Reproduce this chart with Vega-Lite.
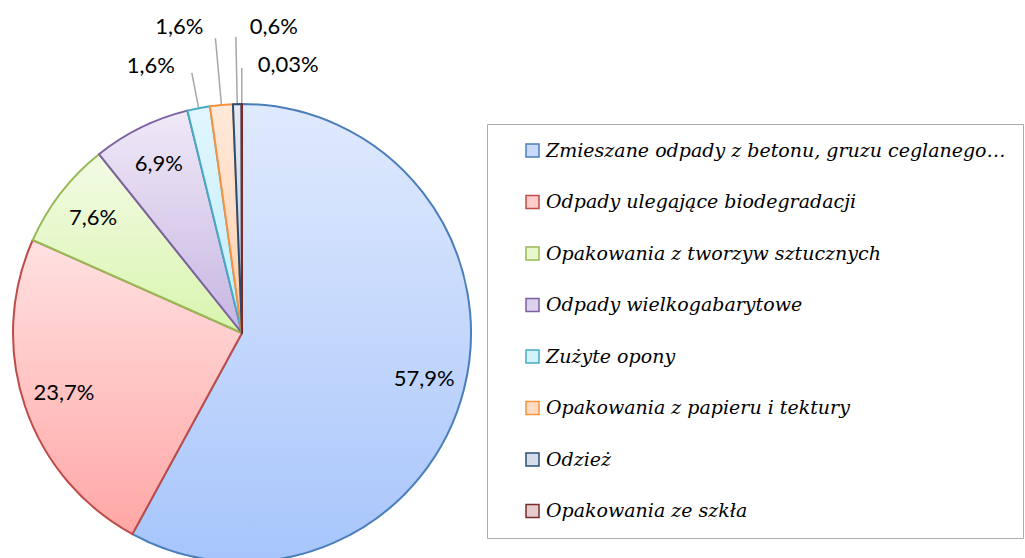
{
  "$schema": "https://vega.github.io/schema/vega-lite/v6.json",
  "width": 1025,
  "height": 558,
  "padding": 0,
  "autosize": {"type": "none"},
  "background": "white",
  "config": {
    "view": {"stroke": null},
    "legend": {
      "title": null,
      "symbolType": "square",
      "symbolSize": 169,
      "symbolStrokeWidth": 1.5,
      "labelFont": "DejaVu Serif",
      "labelFontStyle": "italic",
      "labelFontSize": 19,
      "labelColor": "black",
      "rowPadding": 31.5,
      "padding": 17,
      "symbolOffset": 19,
      "labelOffset": 4,
      "labelLimit": 700,
      "strokeColor": "#ababab",
      "fillColor": "white"
    }
  },
  "data": {
    "values": [
      {"cat": "Zmieszane odpady z betonu, gruzu ceglanego…", "value": 57.9, "label": "57,9%", "order": 1},
      {"cat": "Odpady ulegające biodegradacji", "value": 23.7, "label": "23,7%", "order": 2},
      {"cat": "Opakowania z tworzyw sztucznych", "value": 7.6, "label": "7,6%", "order": 3},
      {"cat": "Odpady wielkogabarytowe", "value": 6.9, "label": "6,9%", "order": 4},
      {"cat": "Zużyte opony", "value": 1.6, "label": "1,6%", "order": 5},
      {"cat": "Opakowania z papieru i tektury", "value": 1.6, "label": "1,6%", "order": 6},
      {"cat": "Odzież", "value": 0.6, "label": "0,6%", "order": 7},
      {"cat": "Opakowania ze szkła", "value": 0.03, "label": "0,03%", "order": 8}
    ]
  },
  "layer": [
    {
      "mark": {"type": "arc", "x": 242, "y": 333, "outerRadius": 229},
      "encoding": {
        "theta": {"field": "value", "type": "quantitative", "stack": true, "scale": {"nice": false}},
        "order": {"field": "order", "type": "quantitative"},
        "fill": {
          "field": "cat", "type": "nominal",
          "scale": {
            "domain": ["Zmieszane odpady z betonu, gruzu ceglanego…", "Odpady ulegające biodegradacji", "Opakowania z tworzyw sztucznych", "Odpady wielkogabarytowe", "Zużyte opony", "Opakowania z papieru i tektury", "Odzież", "Opakowania ze szkła"],
            "range": ["#c9dafc", "#ffcccc", "#e6f8cc", "#ddd2ee", "#d2f2fc", "#ffddc4", "#d5dcea", "#e6cccc"]
          },
          "legend": {"orient": "none", "legendX": 487, "legendY": 124}
        }
      }
    },
    {
      "mark": {"type": "arc", "x": 242, "y": 333, "outerRadius": 229, "strokeWidth": 2, "strokeJoin": "round"},
      "encoding": {
        "theta": {"field": "value", "type": "quantitative", "stack": true},
        "order": {"field": "order", "type": "quantitative"},
        "fill": {
          "condition": [
            {"test": "datum.order == 1", "value": {"gradient": "linear", "x1": 0, "y1": 0, "x2": 0, "y2": 1, "stops": [{"offset": 0, "color": "#e0eafd"}, {"offset": 1, "color": "#a7c5fb"}]}},
            {"test": "datum.order == 2", "value": {"gradient": "linear", "x1": 0, "y1": 0, "x2": 0, "y2": 1, "stops": [{"offset": 0, "color": "#ffe1e1"}, {"offset": 1, "color": "#ffa7a6"}]}},
            {"test": "datum.order == 3", "value": {"gradient": "linear", "x1": 0, "y1": 0, "x2": 0, "y2": 1, "stops": [{"offset": 0, "color": "#f3fbe5"}, {"offset": 1, "color": "#d8f5ae"}]}},
            {"test": "datum.order == 4", "value": {"gradient": "linear", "x1": 0, "y1": 0, "x2": 0, "y2": 1, "stops": [{"offset": 0, "color": "#efe9f7"}, {"offset": 1, "color": "#c7b6e2"}]}},
            {"test": "datum.order == 5", "value": {"gradient": "linear", "x1": 0, "y1": 0, "x2": 0, "y2": 1, "stops": [{"offset": 0, "color": "#e2f6fd"}, {"offset": 1, "color": "#bfeefb"}]}},
            {"test": "datum.order == 6", "value": {"gradient": "linear", "x1": 0, "y1": 0, "x2": 0, "y2": 1, "stops": [{"offset": 0, "color": "#ffe9d9"}, {"offset": 1, "color": "#ffd0ad"}]}},
            {"test": "datum.order == 7", "value": {"gradient": "linear", "x1": 0, "y1": 0, "x2": 0, "y2": 1, "stops": [{"offset": 0, "color": "#e6eaf2"}, {"offset": 1, "color": "#c3cde0"}]}}
          ],
          "value": {"gradient": "linear", "x1": 0, "y1": 0, "x2": 0, "y2": 1, "stops": [{"offset": 0, "color": "#f0dfdf"}, {"offset": 1, "color": "#d8b9b9"}]}
        },
        "stroke": {
          "field": "cat", "type": "nominal",
          "scale": {
            "domain": ["Zmieszane odpady z betonu, gruzu ceglanego…", "Odpady ulegające biodegradacji", "Opakowania z tworzyw sztucznych", "Odpady wielkogabarytowe", "Zużyte opony", "Opakowania z papieru i tektury", "Odzież", "Opakowania ze szkła"],
            "range": ["#4a7ebb", "#be4b48", "#98b954", "#7d60a0", "#46aac5", "#f69240", "#2c4d75", "#772c2a"]
          },
          "legend": {"orient": "none", "legendX": 487, "legendY": 124}
        }
      }
    },
    {
      "mark": {"type": "arc", "x": 242, "y": 333, "innerRadius": 230, "outerRadius": 265, "padAngle": 0.6, "fill": null, "strokeWidth": 1.5},
      "encoding": {
        "theta": {"field": "value", "type": "quantitative", "stack": true},
        "order": {"field": "order", "type": "quantitative"},
        "stroke": {"condition": {"test": "datum.order == 5 || datum.order == 8", "value": "#a6a6a6"}, "value": null}
      }
    },
    {
      "mark": {"type": "arc", "x": 242, "y": 333, "innerRadius": 230, "outerRadius": 296, "padAngle": 0.6, "fill": null, "strokeWidth": 1.5},
      "encoding": {
        "theta": {"field": "value", "type": "quantitative", "stack": true},
        "order": {"field": "order", "type": "quantitative"},
        "stroke": {"condition": {"test": "datum.order == 6 || datum.order == 7", "value": "#a6a6a6"}, "value": null}
      }
    },
    {
      "mark": {"type": "text", "x": 242, "y": 333, "radius": 188, "font": "Lato", "fontSize": 22, "color": "black"},
      "encoding": {
        "theta": {"field": "value", "type": "quantitative", "stack": true},
        "order": {"field": "order", "type": "quantitative"},
        "text": {"condition": {"test": "datum.order <= 4", "field": "label"}, "value": ""}
      }
    },
    {
      "mark": {"type": "text", "x": 242, "y": 333, "radius": 265, "align": "right", "baseline": "alphabetic", "dx": -17, "dy": 0, "font": "Lato", "fontSize": 22, "color": "black"},
      "encoding": {
        "theta": {"field": "value", "type": "quantitative", "stack": true},
        "order": {"field": "order", "type": "quantitative"},
        "text": {"condition": {"test": "datum.order == 5", "field": "label"}, "value": ""}
      }
    },
    {
      "mark": {"type": "text", "x": 242, "y": 333, "radius": 296, "align": "right", "baseline": "alphabetic", "dx": -12, "dy": -4, "font": "Lato", "fontSize": 22, "color": "black"},
      "encoding": {
        "theta": {"field": "value", "type": "quantitative", "stack": true},
        "order": {"field": "order", "type": "quantitative"},
        "text": {"condition": {"test": "datum.order == 6", "field": "label"}, "value": ""}
      }
    },
    {
      "mark": {"type": "text", "x": 242, "y": 333, "radius": 296, "align": "left", "baseline": "alphabetic", "dx": 14, "dy": -3, "font": "Lato", "fontSize": 22, "color": "black"},
      "encoding": {
        "theta": {"field": "value", "type": "quantitative", "stack": true},
        "order": {"field": "order", "type": "quantitative"},
        "text": {"condition": {"test": "datum.order == 7", "field": "label"}, "value": ""}
      }
    },
    {
      "mark": {"type": "text", "x": 242, "y": 333, "radius": 265, "align": "left", "baseline": "alphabetic", "dx": 16, "dy": 4, "font": "Lato", "fontSize": 22, "color": "black"},
      "encoding": {
        "theta": {"field": "value", "type": "quantitative", "stack": true},
        "order": {"field": "order", "type": "quantitative"},
        "text": {"condition": {"test": "datum.order == 8", "field": "label"}, "value": ""}
      }
    }
  ]
}
